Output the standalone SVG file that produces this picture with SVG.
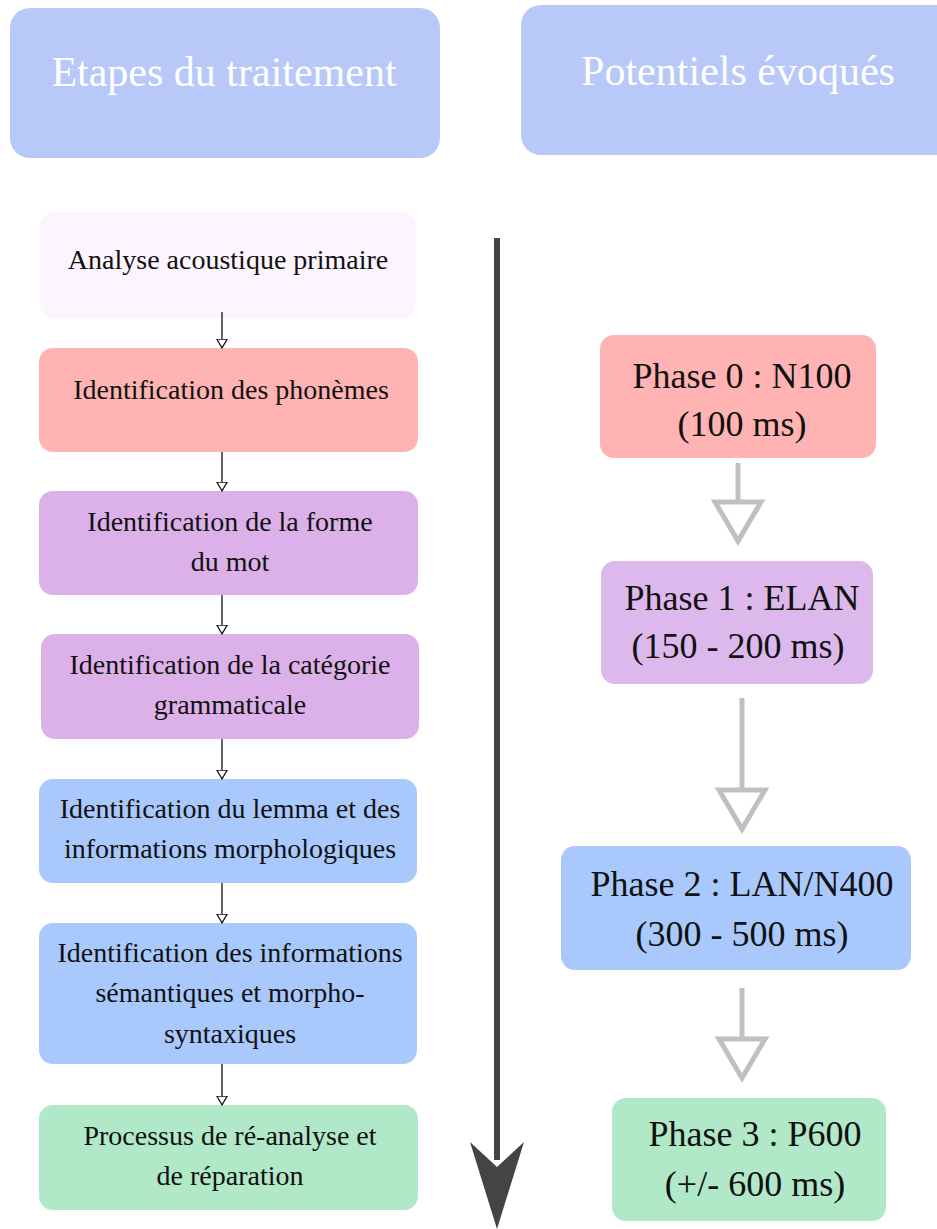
<svg xmlns="http://www.w3.org/2000/svg" width="937" height="1229" viewBox="0 0 937 1229">
  <style>
    text { font-family: "Liberation Serif", "DejaVu Serif", serif; text-anchor: middle; fill: #111; }
    .head { fill: #b8c8f8; }
    .head-t { fill: #ffffff; font-size: 42px; }
    .step-t { font-size: 28px; }
    .phase-t { font-size: 36px; }
    .thin { stroke: #111; stroke-width: 1.3; fill: none; }
    .gray { stroke: #c0c0c0; stroke-width: 5; fill: none; }
  </style>
  <defs>
    <marker id="tri" viewBox="0 0 10 12" refX="9.5" refY="6" markerWidth="10" markerHeight="12" markerUnits="userSpaceOnUse" orient="auto">
      <path d="M0.6,0.8 L9.4,6 L0.6,11.2 Z" fill="#fff" stroke="#111" stroke-width="1.2"/>
    </marker>
  </defs>

  <!-- column headers -->
  <g id="header-etapes">
    <rect class="head" x="10" y="8" width="430" height="150" rx="20"/>
    <text class="head-t" x="224" y="86">Etapes du traitement</text>
  </g>
  <g id="header-potentiels">
    <rect class="head" x="521" y="5" width="436" height="150" rx="20"/>
    <text class="head-t" x="738" y="85">Potentiels évoqués</text>
  </g>

  <!-- processing steps -->
  <g id="step-acoustique">
    <rect x="40" y="212" width="376" height="106" rx="14" fill="#fcf5ff"/>
    <text class="step-t" x="228" y="269">Analyse acoustique primaire</text>
  </g>
  <g id="step-phonemes">
    <rect x="39" y="348" width="379" height="104" rx="14" fill="#ffb3b3"/>
    <text class="step-t" x="231" y="399">Identification des phonèmes</text>
  </g>
  <g id="step-forme">
    <rect x="39" y="491" width="379" height="104" rx="14" fill="#dcb0e8"/>
    <text class="step-t" x="230" y="531">Identification de la forme</text>
    <text class="step-t" x="230" y="571">du mot</text>
  </g>
  <g id="step-categorie">
    <rect x="41" y="634" width="378" height="105" rx="14" fill="#dcb0e8"/>
    <text class="step-t" x="230" y="674">Identification de la catégorie</text>
    <text class="step-t" x="230" y="714">grammaticale</text>
  </g>
  <g id="step-lemma">
    <rect x="39" y="779" width="378" height="104" rx="14" fill="#a9c9fd"/>
    <text class="step-t" x="230" y="818">Identification du lemma et des</text>
    <text class="step-t" x="230" y="858">informations morphologiques</text>
  </g>
  <g id="step-semantique">
    <rect x="39" y="923" width="378" height="141" rx="14" fill="#a9c9fd"/>
    <text class="step-t" x="230" y="962">Identification des informations</text>
    <text class="step-t" x="230" y="1002">sémantiques et morpho-</text>
    <text class="step-t" x="230" y="1043">syntaxiques</text>
  </g>
  <g id="step-reanalyse">
    <rect x="39" y="1105" width="379" height="105" rx="14" fill="#b0e8c8"/>
    <text class="step-t" x="230" y="1145">Processus de ré-analyse et</text>
    <text class="step-t" x="230" y="1185">de réparation</text>
  </g>

  <!-- evoked potentials -->
  <g id="phase-0">
    <rect x="600" y="335" width="276" height="123" rx="14" fill="#ffb3b3"/>
    <text class="phase-t" x="742" y="388">Phase 0 : N100</text>
    <text class="phase-t" x="742" y="436">(100 ms)</text>
  </g>
  <g id="phase-1">
    <rect x="601" y="561" width="272" height="123" rx="14" fill="#ddb8ec"/>
    <text class="phase-t" x="742" y="610">Phase 1 : ELAN</text>
    <text class="phase-t" x="738" y="658">(150 - 200 ms)</text>
  </g>
  <g id="phase-2">
    <rect x="561" y="846" width="350" height="124" rx="14" fill="#a9c9fd"/>
    <text class="phase-t" x="742" y="896">Phase 2 : LAN/N400</text>
    <text class="phase-t" x="742" y="946">(300 - 500 ms)</text>
  </g>
  <g id="phase-3">
    <rect x="612" y="1098" width="274" height="123" rx="14" fill="#b0e8c8"/>
    <text class="phase-t" x="755" y="1146">Phase 3 : P600</text>
    <text class="phase-t" x="755" y="1196">(+/- 600 ms)</text>
  </g>

  <!-- connectors -->
  <g id="connectors">
    <line class="thin" x1="222" y1="312" x2="222" y2="348" marker-end="url(#tri)"/>
    <line class="thin" x1="222" y1="452" x2="222" y2="491" marker-end="url(#tri)"/>
    <line class="thin" x1="222" y1="595" x2="222" y2="634" marker-end="url(#tri)"/>
    <line class="thin" x1="222" y1="739" x2="222" y2="779" marker-end="url(#tri)"/>
    <line class="thin" x1="222" y1="883" x2="222" y2="923" marker-end="url(#tri)"/>
    <line class="thin" x1="222" y1="1064" x2="222" y2="1105" marker-end="url(#tri)"/>

    <!-- time axis -->
    <line x1="497" y1="238" x2="497" y2="1160" stroke="#444" stroke-width="6"/>
    <path d="M470,1142 L497,1167 L524,1142 L497,1229 Z" fill="#444"/>

    <!-- phase sequence -->
    <line class="gray" x1="738" y1="463" x2="738" y2="502"/>
    <path class="gray" d="M715,502 L761,502 L738,541 Z"/>
    <line class="gray" x1="742" y1="698" x2="742" y2="790"/>
    <path class="gray" d="M719,790 L765,790 L742,829 Z"/>
    <line class="gray" x1="742" y1="988" x2="742" y2="1039"/>
    <path class="gray" d="M719,1039 L765,1039 L742,1078 Z"/>
  </g>
</svg>
